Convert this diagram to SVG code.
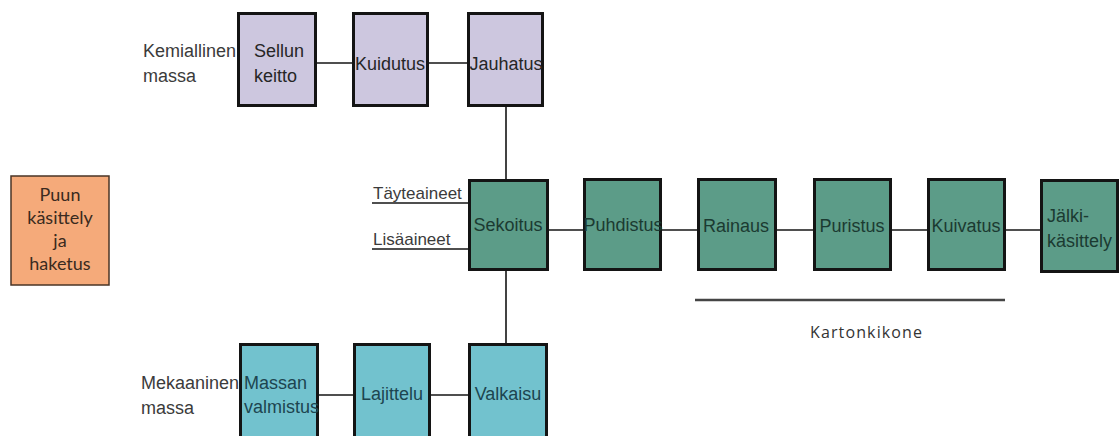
<svg xmlns="http://www.w3.org/2000/svg" width="1120" height="436" viewBox="0 0 1120 436">
<style>
.box{stroke:#141414;stroke-width:3}
.chem{fill:#cdc7df}
.mix{fill:#5c9c88}
.mech{fill:#72c2ce}
.wood{fill:#f5aa7a;stroke:#4a3426;stroke-width:1.5}
.t{font-family:"Liberation Sans",Arial,sans-serif;font-size:18px}
.tc{fill:#262626}
.tg{fill:#1b3a31}
.tb{fill:#1d4550}
.lbl{font-family:"Liberation Sans",Arial,sans-serif;font-size:18px;fill:#3b3b3b}
.cal{font-family:Lato,"Open Sans",sans-serif;font-size:18px;fill:#3a2a20}
.mid{text-anchor:middle}
.conn line{stroke:#141414;stroke-width:1.6}
</style>
<rect width="1120" height="436" fill="#ffffff"/>
<g id="connectors" class="conn">
<line x1="317" y1="63" x2="352" y2="63"/>
<line x1="429" y1="63" x2="467" y2="63"/>
<line x1="506" y1="107" x2="506" y2="179"/>
<line x1="372" y1="203" x2="468" y2="203"/>
<line x1="372" y1="249" x2="468" y2="249"/>
<line x1="549" y1="230" x2="583" y2="230"/>
<line x1="662" y1="230" x2="697" y2="230"/>
<line x1="777" y1="230" x2="813" y2="230"/>
<line x1="892" y1="230" x2="927" y2="230"/>
<line x1="1006" y1="230" x2="1040" y2="230"/>
<line x1="506" y1="271" x2="506" y2="343"/>
<line x1="319" y1="395" x2="353" y2="395"/>
<line x1="431" y1="395" x2="468" y2="395"/>
</g>
<g id="puun">
<rect class="wood" x="11" y="176" width="98" height="109"/>
<text class="cal mid" x="60" y="201">Puun</text>
<text class="cal mid" x="60" y="224">käsittely</text>
<text class="cal mid" x="60" y="247">ja</text>
<text class="cal mid" x="60" y="270">haketus</text>
</g>
<g id="kemiallinen">
<text class="lbl" x="143" y="57">Kemiallinen</text>
<text class="lbl" x="143" y="82">massa</text>
</g>
<g id="sellun">
<rect class="box chem" x="238.5" y="13.5" width="77" height="92"/>
<text class="t tc" x="254" y="57">Sellun</text>
<text class="t tc" x="254" y="82">keitto</text>
</g>
<g id="kuidutus">
<rect class="box chem" x="353.5" y="13.5" width="74" height="92"/>
<text class="t tc mid" x="390" y="70">Kuidutus</text>
</g>
<g id="jauhatus">
<rect class="box chem" x="468.5" y="13.5" width="74" height="92"/>
<text class="t tc mid" x="506" y="70">Jauhatus</text>
</g>
<g id="taeyteaineet">
<text class="lbl" x="373" y="199" style="font-size:17px">Täyteaineet</text>
</g>
<g id="lisaeaineet">
<text class="lbl" x="373" y="245" style="font-size:17px">Lisäaineet</text>
</g>
<g id="sekoitus">
<rect class="box mix" x="469.5" y="180.5" width="78" height="89"/>
<text class="t tg mid" x="508" y="231">Sekoitus</text>
</g>
<g id="puhdistus">
<rect class="box mix" x="584.5" y="179.5" width="76" height="90"/>
<text class="t tg mid" x="623" y="231">Puhdistus</text>
</g>
<g id="rainaus">
<rect class="box mix" x="698.5" y="179.5" width="77" height="90"/>
<text class="t tg mid" x="736" y="232">Rainaus</text>
</g>
<g id="puristus">
<rect class="box mix" x="814.5" y="179.5" width="76" height="90"/>
<text class="t tg mid" x="852" y="232">Puristus</text>
</g>
<g id="kuivatus">
<rect class="box mix" x="928.5" y="179.5" width="76" height="90"/>
<text class="t tg mid" x="966" y="232">Kuivatus</text>
</g>
<g id="jaelkikaesittely">
<rect class="box mix" x="1041.5" y="180.5" width="76" height="91"/>
<text class="t tg" x="1047" y="222">Jälki-</text>
<text class="t tg" x="1047" y="247">käsittely</text>
</g>
<g id="kartonkikone">
<line x1="695" y1="300" x2="1005" y2="300" stroke="#454545" stroke-width="2.5"/>
<text x="866" y="338" text-anchor="middle" font-family="'Open Sans', Lato, sans-serif" font-size="16" fill="#333333" textLength="112" lengthAdjust="spacing">Kartonkikone</text>
</g>
<g id="mekaaninen">
<text class="lbl" x="141" y="389">Mekaaninen</text>
<text class="lbl" x="141" y="414">massa</text>
</g>
<g id="massan">
<rect class="box mech" x="240.5" y="344.5" width="77" height="94"/>
<text class="t tb" x="244" y="389">Massan</text>
<text class="t tb" x="244" y="413">valmistus</text>
</g>
<g id="lajittelu">
<rect class="box mech" x="354.5" y="344.5" width="75" height="94"/>
<text class="t tb mid" x="392" y="400">Lajittelu</text>
</g>
<g id="valkaisu">
<rect class="box mech" x="469.5" y="344.5" width="77" height="94"/>
<text class="t tb mid" x="508" y="400">Valkaisu</text>
</g>
</svg>
